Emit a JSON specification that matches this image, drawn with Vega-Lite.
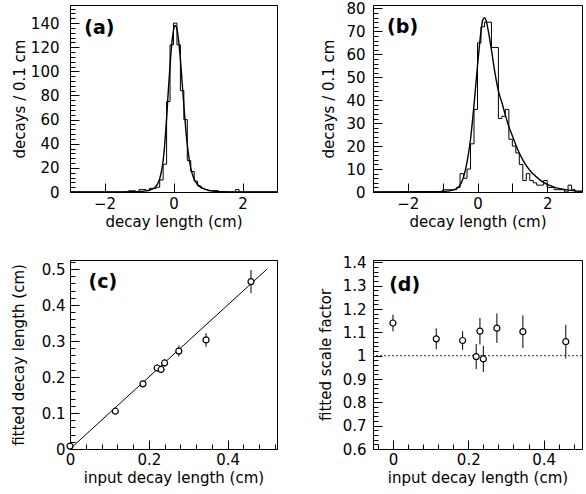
{
  "$schema": "https://vega.github.io/schema/vega-lite/v6.json",
  "background": "white",
  "padding": {"left": 10, "top": 0, "right": 0, "bottom": 0},
  "columns": 2,
  "spacing": {"row": 68, "column": 96},
  "bounds": "flush",
  "datasets": {
    "histA": [
      {"x": -3.0, "n": 0}, {"x": -2.9, "n": 0}, {"x": -2.8, "n": 0}, {"x": -2.7, "n": 0}, {"x": -2.6, "n": 0},
      {"x": -2.5, "n": 0}, {"x": -2.4, "n": 0}, {"x": -2.3, "n": 0}, {"x": -2.2, "n": 0}, {"x": -2.1, "n": 0},
      {"x": -2.0, "n": 0}, {"x": -1.9, "n": 0}, {"x": -1.8, "n": 0}, {"x": -1.7, "n": 0}, {"x": -1.6, "n": 0},
      {"x": -1.5, "n": 0}, {"x": -1.4, "n": 0}, {"x": -1.3, "n": 1}, {"x": -1.2, "n": 1}, {"x": -1.1, "n": 0},
      {"x": -1.0, "n": 2}, {"x": -0.9, "n": 2}, {"x": -0.8, "n": 1}, {"x": -0.7, "n": 3}, {"x": -0.6, "n": 3},
      {"x": -0.5, "n": 4}, {"x": -0.4, "n": 10}, {"x": -0.3, "n": 23}, {"x": -0.2, "n": 75}, {"x": -0.1, "n": 122},
      {"x": 0.0, "n": 140}, {"x": 0.1, "n": 122}, {"x": 0.2, "n": 84}, {"x": 0.3, "n": 60}, {"x": 0.4, "n": 26},
      {"x": 0.5, "n": 17}, {"x": 0.6, "n": 9}, {"x": 0.7, "n": 5}, {"x": 0.8, "n": 3}, {"x": 0.9, "n": 2},
      {"x": 1.0, "n": 1}, {"x": 1.1, "n": 1}, {"x": 1.2, "n": 1}, {"x": 1.3, "n": 0}, {"x": 1.4, "n": 0},
      {"x": 1.5, "n": 0}, {"x": 1.6, "n": 0}, {"x": 1.7, "n": 0}, {"x": 1.8, "n": 2}, {"x": 1.9, "n": 0},
      {"x": 2.0, "n": 0}, {"x": 2.1, "n": 0}, {"x": 2.2, "n": 0}, {"x": 2.3, "n": 0}, {"x": 2.4, "n": 0},
      {"x": 2.5, "n": 0}, {"x": 2.6, "n": 0}, {"x": 2.7, "n": 0}, {"x": 2.8, "n": 0}, {"x": 2.9, "n": 0},
      {"x": 3.0, "n": 0}
    ],
    "fitA": [
      {"x": -3.0, "f": 0}, {"x": -1.5, "f": 0.05}, {"x": -1.2, "f": 0.15}, {"x": -1.0, "f": 0.3}, {"x": -0.9, "f": 0.5},
      {"x": -0.8, "f": 0.9}, {"x": -0.7, "f": 1.5}, {"x": -0.6, "f": 2.5}, {"x": -0.5, "f": 5}, {"x": -0.45, "f": 7.5},
      {"x": -0.4, "f": 11}, {"x": -0.35, "f": 17}, {"x": -0.3, "f": 26}, {"x": -0.25, "f": 41}, {"x": -0.2, "f": 61},
      {"x": -0.15, "f": 84}, {"x": -0.1, "f": 105}, {"x": -0.05, "f": 123}, {"x": 0.0, "f": 134}, {"x": 0.05, "f": 138},
      {"x": 0.1, "f": 135}, {"x": 0.15, "f": 125}, {"x": 0.2, "f": 110}, {"x": 0.25, "f": 91}, {"x": 0.3, "f": 72},
      {"x": 0.35, "f": 54}, {"x": 0.4, "f": 39}, {"x": 0.45, "f": 28}, {"x": 0.5, "f": 20}, {"x": 0.55, "f": 14.5},
      {"x": 0.6, "f": 10.5}, {"x": 0.7, "f": 6}, {"x": 0.8, "f": 3.8}, {"x": 0.9, "f": 2.4}, {"x": 1.0, "f": 1.5},
      {"x": 1.1, "f": 1}, {"x": 1.2, "f": 0.6}, {"x": 1.4, "f": 0.25}, {"x": 1.6, "f": 0.1}, {"x": 2.0, "f": 0.03},
      {"x": 3.0, "f": 0}
    ],
    "histB": [
      {"x": -3.0, "n": 0}, {"x": -2.9, "n": 0}, {"x": -2.8, "n": 0}, {"x": -2.7, "n": 0}, {"x": -2.6, "n": 0},
      {"x": -2.5, "n": 0}, {"x": -2.4, "n": 0}, {"x": -2.3, "n": 0}, {"x": -2.2, "n": 0}, {"x": -2.1, "n": 0},
      {"x": -2.0, "n": 0}, {"x": -1.9, "n": 0}, {"x": -1.8, "n": 0}, {"x": -1.7, "n": 0}, {"x": -1.6, "n": 0},
      {"x": -1.5, "n": 0}, {"x": -1.4, "n": 0}, {"x": -1.3, "n": 0}, {"x": -1.2, "n": 0}, {"x": -1.1, "n": 0},
      {"x": -1.0, "n": 1}, {"x": -0.9, "n": 1}, {"x": -0.8, "n": 1}, {"x": -0.7, "n": 1}, {"x": -0.6, "n": 2},
      {"x": -0.5, "n": 8}, {"x": -0.4, "n": 6}, {"x": -0.3, "n": 10}, {"x": -0.2, "n": 21}, {"x": -0.1, "n": 36},
      {"x": 0.0, "n": 65}, {"x": 0.1, "n": 72}, {"x": 0.2, "n": 74}, {"x": 0.3, "n": 74}, {"x": 0.4, "n": 63},
      {"x": 0.5, "n": 63}, {"x": 0.6, "n": 32}, {"x": 0.7, "n": 33}, {"x": 0.8, "n": 36}, {"x": 0.9, "n": 23},
      {"x": 1.0, "n": 20}, {"x": 1.1, "n": 17}, {"x": 1.2, "n": 12}, {"x": 1.3, "n": 5}, {"x": 1.4, "n": 8},
      {"x": 1.5, "n": 5}, {"x": 1.6, "n": 4}, {"x": 1.7, "n": 3}, {"x": 1.8, "n": 3}, {"x": 1.9, "n": 5},
      {"x": 2.0, "n": 2}, {"x": 2.1, "n": 2}, {"x": 2.2, "n": 1}, {"x": 2.3, "n": 1}, {"x": 2.4, "n": 1},
      {"x": 2.5, "n": 0}, {"x": 2.6, "n": 3}, {"x": 2.7, "n": 1}, {"x": 2.8, "n": 0}, {"x": 2.9, "n": 0},
      {"x": 3.0, "n": 0}
    ],
    "fitB": [
      {"x": -3.0, "f": 0}, {"x": -1.2, "f": 0.1}, {"x": -1.0, "f": 0.2}, {"x": -0.8, "f": 0.5}, {"x": -0.7, "f": 0.9},
      {"x": -0.6, "f": 1.5}, {"x": -0.5, "f": 3}, {"x": -0.4, "f": 6.5}, {"x": -0.3, "f": 13}, {"x": -0.2, "f": 23},
      {"x": -0.1, "f": 38}, {"x": 0.0, "f": 55}, {"x": 0.05, "f": 63}, {"x": 0.1, "f": 70}, {"x": 0.15, "f": 75},
      {"x": 0.2, "f": 76}, {"x": 0.25, "f": 74.5}, {"x": 0.3, "f": 71}, {"x": 0.4, "f": 62}, {"x": 0.5, "f": 52},
      {"x": 0.6, "f": 44}, {"x": 0.7, "f": 39}, {"x": 0.8, "f": 33.5}, {"x": 0.9, "f": 28.5}, {"x": 1.0, "f": 24.5},
      {"x": 1.1, "f": 20.5}, {"x": 1.2, "f": 17}, {"x": 1.3, "f": 14}, {"x": 1.4, "f": 11.5}, {"x": 1.5, "f": 9.5},
      {"x": 1.6, "f": 7.8}, {"x": 1.8, "f": 5.2}, {"x": 2.0, "f": 3.3}, {"x": 2.2, "f": 2.1}, {"x": 2.4, "f": 1.3},
      {"x": 2.6, "f": 0.8}, {"x": 2.8, "f": 0.5}, {"x": 3.0, "f": 0.3}
    ],
    "ptsC": [
      {"x": 0.0, "y": 0.008, "lo": 0.003, "hi": 0.013},
      {"x": 0.115, "y": 0.105, "lo": 0.097, "hi": 0.113},
      {"x": 0.185, "y": 0.181, "lo": 0.173, "hi": 0.189},
      {"x": 0.221, "y": 0.225, "lo": 0.215, "hi": 0.235},
      {"x": 0.231, "y": 0.221, "lo": 0.211, "hi": 0.231},
      {"x": 0.240, "y": 0.239, "lo": 0.229, "hi": 0.249},
      {"x": 0.276, "y": 0.272, "lo": 0.257, "hi": 0.287},
      {"x": 0.345, "y": 0.303, "lo": 0.284, "hi": 0.322},
      {"x": 0.459, "y": 0.465, "lo": 0.433, "hi": 0.497}
    ],
    "diagC": [
      {"x": 0.0, "y": 0.0},
      {"x": 0.5, "y": 0.5}
    ],
    "ptsD": [
      {"x": 0.0, "y": 1.14, "lo": 1.104, "hi": 1.176},
      {"x": 0.115, "y": 1.072, "lo": 1.027, "hi": 1.117},
      {"x": 0.185, "y": 1.065, "lo": 1.025, "hi": 1.105},
      {"x": 0.221, "y": 0.996, "lo": 0.942, "hi": 1.05},
      {"x": 0.231, "y": 1.105, "lo": 1.048, "hi": 1.162},
      {"x": 0.240, "y": 0.986, "lo": 0.93, "hi": 1.042},
      {"x": 0.276, "y": 1.118, "lo": 1.055, "hi": 1.181},
      {"x": 0.345, "y": 1.103, "lo": 1.033, "hi": 1.173},
      {"x": 0.459, "y": 1.06, "lo": 0.988, "hi": 1.132}
    ]
  },
  "concat": [
    {
      "width": 207, "height": 187,
      "resolve": {"axis": {"x": "independent", "y": "independent"}},
      "layer": [
        {
          "data": {"name": "histA"},
          "mark": {"type": "line", "interpolate": "step-after", "color": "black", "strokeWidth": 1},
          "encoding": {
            "x": {"field": "x", "type": "quantitative", "scale": {"domain": [-3, 3], "nice": false, "zero": false},
              "axis": {"orient": "bottom", "title": "decay length (cm)", "values": [-2, 0, 2], "ticks": false, "labelPadding": 4, "titlePadding": 3}},
            "y": {"field": "n", "type": "quantitative", "scale": {"domain": [0, 155], "nice": false},
              "axis": {"orient": "left", "title": "decays / 0.1 cm", "titlePadding": 3,
                "values": [0, 20, 40, 60, 80, 100, 120, 140], "ticks": false, "labelPadding": 11}}
          }
        },
        {
          "data": {"name": "fitA"},
          "mark": {"type": "line", "interpolate": "monotone", "color": "black", "strokeWidth": 1.4},
          "encoding": {
            "x": {"field": "x", "type": "quantitative",
              "axis": {"orient": "bottom", "title": null, "labels": false, "domain": false, "tickSize": 9, "offset": -9, "values": [-2, 0, 2]}},
            "y": {"field": "f", "type": "quantitative",
              "axis": {"orient": "left", "title": null, "labels": false, "domain": false, "tickSize": 9, "offset": -9,
                "values": [0, 20, 40, 60, 80, 100, 120, 140]}}
          }
        },
        {
          "data": {"values": [{}]},
          "mark": {"type": "text", "font": "DejaVu Sans", "fontWeight": "bold", "fontSize": 19, "align": "center", "baseline": "middle"},
          "encoding": {
            "x": {"datum": -2.15, "axis": null},
            "y": {"datum": 136,
              "axis": {"orient": "left", "title": null, "labels": false, "domain": false, "tickSize": 5, "offset": -5,
                "values": [4,8,12,16,24,28,32,36,44,48,52,56,64,68,72,76,84,88,92,96,104,108,112,116,124,128,132,136,144,148,152]}},
            "text": {"value": "(a)"}
          }
        }
      ]
    },
    {
      "width": 209, "height": 187,
      "resolve": {"axis": {"x": "independent", "y": "independent"}},
      "layer": [
        {
          "data": {"name": "histB"},
          "mark": {"type": "line", "interpolate": "step-after", "color": "black", "strokeWidth": 1},
          "encoding": {
            "x": {"field": "x", "type": "quantitative", "scale": {"domain": [-3, 3], "nice": false, "zero": false},
              "axis": {"orient": "bottom", "title": "decay length (cm)", "values": [-2, 0, 2], "ticks": false, "labelPadding": 4, "titlePadding": 3}},
            "y": {"field": "n", "type": "quantitative", "scale": {"domain": [0, 81.5], "nice": false},
              "axis": {"orient": "left", "title": "decays / 0.1 cm", "titlePadding": 9,
                "values": [0, 10, 20, 30, 40, 50, 60, 70, 80], "ticks": false, "labelPadding": 8}}
          }
        },
        {
          "data": {"name": "fitB"},
          "mark": {"type": "line", "interpolate": "monotone", "color": "black", "strokeWidth": 1.4},
          "encoding": {
            "x": {"field": "x", "type": "quantitative",
              "axis": {"orient": "bottom", "title": null, "labels": false, "domain": false, "tickSize": 9, "offset": -9, "values": [-2, -1, 0, 1, 2]}},
            "y": {"field": "f", "type": "quantitative",
              "axis": {"orient": "left", "title": null, "labels": false, "domain": false, "tickSize": 9, "offset": -9,
                "values": [0, 10, 20, 30, 40, 50, 60, 70, 80]}}
          }
        },
        {
          "data": {"values": [{}]},
          "mark": {"type": "text", "font": "DejaVu Sans", "fontWeight": "bold", "fontSize": 19, "align": "center", "baseline": "middle"},
          "encoding": {
            "x": {"datum": -2.15, "axis": null},
            "y": {"datum": 71.8,
              "axis": {"orient": "left", "title": null, "labels": false, "domain": false, "tickSize": 5, "offset": -5,
                "values": [2,4,6,8,12,14,16,18,22,24,26,28,32,34,36,38,42,44,46,48,52,54,56,58,62,64,66,68,72,74,76,78]}},
            "text": {"value": "(b)"}
          }
        }
      ]
    },
    {
      "width": 207, "height": 189,
      "resolve": {"axis": {"x": "independent", "y": "independent"}},
      "layer": [
        {
          "data": {"name": "diagC"},
          "mark": {"type": "line", "color": "black", "strokeWidth": 1},
          "encoding": {
            "x": {"field": "x", "type": "quantitative", "scale": {"domain": [0, 0.525], "nice": false},
              "axis": {"orient": "bottom", "title": "input decay length (cm)", "titlePadding": 3,
                "values": [0, 0.2, 0.4], "format": "~g", "ticks": false, "labelPadding": 3}},
            "y": {"field": "y", "type": "quantitative", "scale": {"domain": [0, 0.525], "nice": false},
              "axis": {"orient": "left", "title": "fitted decay length (cm)", "titlePadding": 15,
                "values": [0, 0.1, 0.2, 0.3, 0.4, 0.5], "format": "~g", "ticks": false, "labelPadding": 5}}
          }
        },
        {
          "data": {"name": "ptsC"},
          "mark": {"type": "rule", "color": "black", "strokeWidth": 1},
          "encoding": {
            "x": {"field": "x", "type": "quantitative",
              "axis": {"orient": "bottom", "title": null, "labels": false, "domain": false, "tickSize": 9, "offset": -9, "values": [0, 0.2, 0.4]}},
            "y": {"field": "lo", "type": "quantitative",
              "axis": {"orient": "left", "title": null, "labels": false, "domain": false, "tickSize": 9, "offset": -9, "values": [0, 0.1, 0.2, 0.3, 0.4, 0.5]}},
            "y2": {"field": "hi"}
          }
        },
        {
          "data": {"name": "ptsC"},
          "mark": {"type": "point", "shape": "circle", "filled": true, "fill": "white", "stroke": "black", "strokeWidth": 1.2, "size": 36, "opacity": 1},
          "encoding": {
            "x": {"field": "x", "type": "quantitative",
              "axis": {"orient": "bottom", "title": null, "labels": false, "domain": false, "tickSize": 5, "offset": -5,
                "values": [0.04,0.08,0.12,0.16,0.24,0.28,0.32,0.36,0.44,0.48,0.52]}},
            "y": {"field": "y", "type": "quantitative",
              "axis": {"orient": "left", "title": null, "labels": false, "domain": false, "tickSize": 5, "offset": -5,
                "values": [0.02,0.04,0.06,0.08,0.12,0.14,0.16,0.18,0.22,0.24,0.26,0.28,0.32,0.34,0.36,0.38,0.42,0.44,0.46,0.48,0.52]}}
          }
        },
        {
          "data": {"values": [{}]},
          "mark": {"type": "text", "font": "DejaVu Sans", "fontWeight": "bold", "fontSize": 19, "align": "center", "baseline": "middle"},
          "encoding": {"x": {"datum": 0.0835, "axis": null}, "y": {"datum": 0.465, "axis": null}, "text": {"value": "(c)"}}
        }
      ]
    },
    {
      "width": 209, "height": 189,
      "resolve": {"axis": {"x": "independent", "y": "independent"}},
      "layer": [
        {
          "data": {"name": "ptsD"},
          "mark": {"type": "rule", "color": "black", "strokeWidth": 1},
          "encoding": {
            "x": {"field": "x", "type": "quantitative", "scale": {"domain": [-0.053, 0.502], "nice": false, "zero": false},
              "axis": {"orient": "bottom", "title": "input decay length (cm)", "titlePadding": 3,
                "values": [0, 0.2, 0.4], "format": "~g", "ticks": false, "labelPadding": 3}},
            "y": {"field": "lo", "type": "quantitative", "scale": {"domain": [0.6, 1.41], "nice": false, "zero": false},
              "axis": {"orient": "left", "title": "fitted scale factor", "titlePadding": 9,
                "values": [0.6, 0.7, 0.8, 0.9, 1, 1.1, 1.2, 1.3, 1.4], "format": "~g", "ticks": false, "labelPadding": 7}},
            "y2": {"field": "hi"}
          }
        },
        {
          "data": {"values": [{}]},
          "mark": {"type": "rule", "color": "#333333", "strokeWidth": 1, "strokeDash": [2, 2]},
          "encoding": {
            "y": {"datum": 1,
              "axis": {"orient": "left", "title": null, "labels": false, "domain": false, "tickSize": 9, "offset": -9,
                "values": [0.6, 0.7, 0.8, 0.9, 1, 1.1, 1.2, 1.3, 1.4]}}
          }
        },
        {
          "data": {"name": "ptsD"},
          "mark": {"type": "point", "shape": "circle", "filled": true, "fill": "white", "stroke": "black", "strokeWidth": 1.2, "size": 36, "opacity": 1},
          "encoding": {
            "x": {"field": "x", "type": "quantitative",
              "axis": {"orient": "bottom", "title": null, "labels": false, "domain": false, "tickSize": 5, "offset": -5,
                "values": [-0.04,0.04,0.08,0.12,0.16,0.24,0.28,0.32,0.36,0.44,0.48]}},
            "y": {"field": "y", "type": "quantitative",
              "axis": {"orient": "left", "title": null, "labels": false, "domain": false, "tickSize": 5, "offset": -5,
                "values": [0.62,0.64,0.66,0.68,0.72,0.74,0.76,0.78,0.82,0.84,0.86,0.88,0.92,0.94,0.96,0.98,1.02,1.04,1.06,1.08,1.12,1.14,1.16,1.18,1.22,1.24,1.26,1.28,1.32,1.34,1.36,1.38]}}
          }
        },
        {
          "data": {"values": [{}]},
          "mark": {"type": "text", "font": "DejaVu Sans", "fontWeight": "bold", "fontSize": 19, "align": "center", "baseline": "middle"},
          "encoding": {
            "x": {"datum": 0.031,
              "axis": {"orient": "bottom", "title": null, "labels": false, "domain": false, "tickSize": 9, "offset": -9, "values": [0, 0.2, 0.4]}},
            "y": {"datum": 1.301, "axis": null},
            "text": {"value": "(d)"}
          }
        }
      ]
    }
  ],
  "config": {
    "view": {"stroke": "black", "strokeWidth": 1},
    "font": "DejaVu Sans",
    "axis": {
      "grid": false,
      "domainColor": "black", "domainWidth": 1,
      "tickColor": "black", "tickWidth": 1,
      "labelColor": "black", "titleColor": "black",
      "labelFont": "DejaVu Sans", "titleFont": "DejaVu Sans",
      "labelFontSize": 15, "titleFontSize": 15, "titleFontWeight": "normal",
      "labelOverlap": false, "labelFlush": false
    }
  }
}
